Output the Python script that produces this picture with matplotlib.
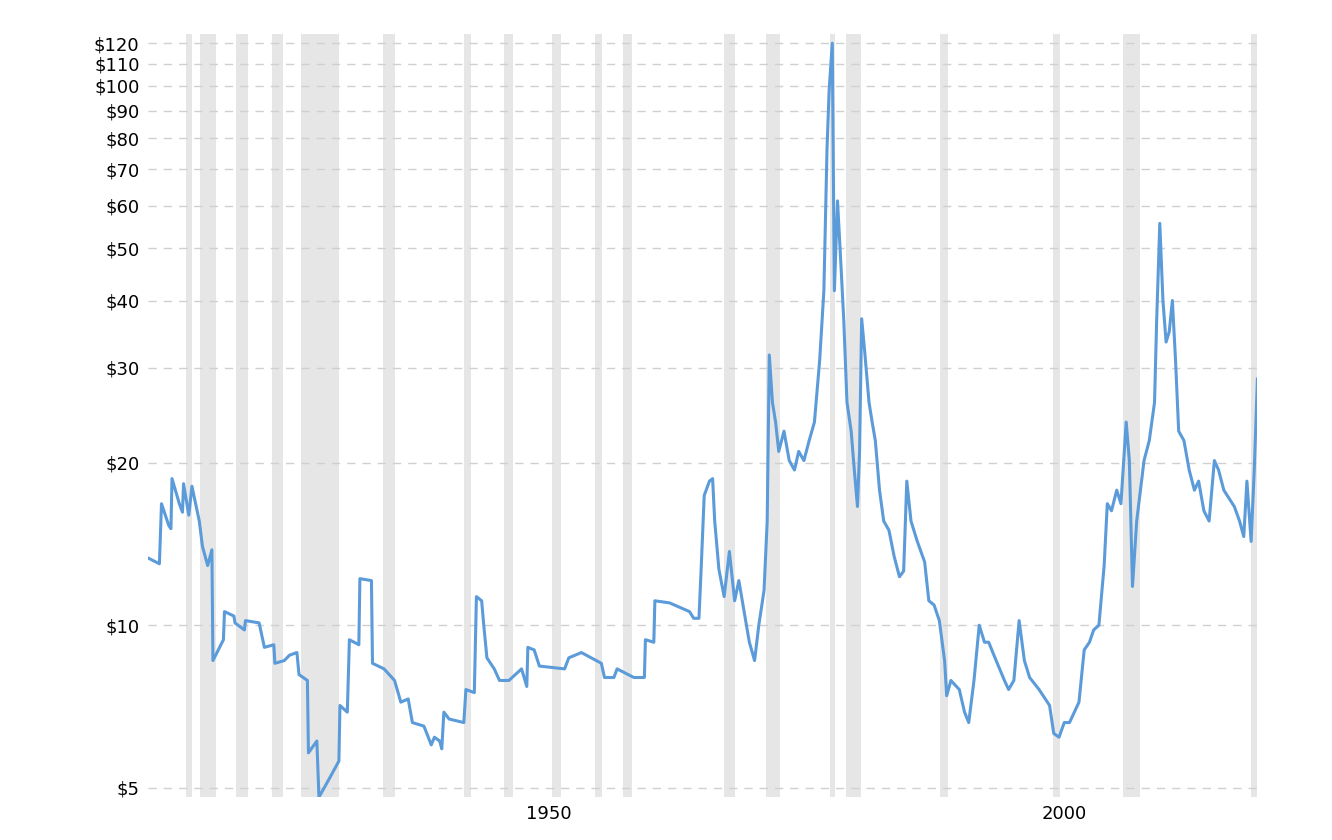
import matplotlib
matplotlib.use("Agg")
import matplotlib.pyplot as plt
from matplotlib.ticker import FixedLocator, NullLocator

# ── data ───────────────────────────────────────────────────────────────────────
years = [
    1915.1, 1916.1, 1916.3, 1917.0, 1917.2, 1917.3, 1918.0, 1918.3, 1918.4, 1918.9,
    1919.2, 1919.9, 1920.2, 1920.7, 1921.1, 1921.2, 1922.2, 1922.3, 1923.2, 1923.3,
    1924.2, 1924.3, 1925.6, 1926.1, 1927.0, 1927.1, 1928.0, 1928.5, 1929.2, 1929.4,
    1930.2, 1930.3, 1931.1, 1931.3, 1932.3, 1933.2, 1933.3, 1934.0, 1934.2, 1935.1,
    1935.2, 1936.3, 1936.4, 1937.5, 1938.5, 1939.1, 1939.8, 1940.2, 1941.3, 1942.0,
    1942.3, 1942.8, 1943.0, 1943.2, 1943.7, 1945.1, 1945.3, 1946.1, 1946.3, 1946.8,
    1947.0, 1947.3, 1948.0, 1948.5, 1949.4, 1950.6, 1951.1, 1951.2, 1951.8, 1952.3,
    1954.7, 1955.1, 1956.3, 1958.2, 1958.5, 1959.4, 1959.7, 1961.3, 1962.3, 1962.4,
    1963.2, 1963.3, 1964.7, 1966.6, 1967.0, 1967.5, 1967.7, 1968.0, 1968.5, 1968.8,
    1969.0, 1969.4, 1969.9, 1970.4, 1970.9, 1971.3, 1971.8, 1972.3, 1972.8, 1973.2,
    1973.7, 1974.0, 1974.2, 1974.5, 1974.8, 1975.1, 1975.6, 1976.1, 1976.6, 1977.0,
    1977.5, 1978.0, 1978.5, 1979.0, 1979.4, 1979.7, 1979.9, 1980.2, 1980.4, 1980.7,
    1981.0, 1981.3, 1981.6, 1982.0, 1982.3, 1982.6, 1982.8, 1983.0, 1983.3, 1983.7,
    1984.0, 1984.3, 1984.7, 1985.1, 1985.6, 1986.1, 1986.6, 1987.0, 1987.3, 1987.7,
    1988.3, 1989.0, 1989.4, 1989.9, 1990.4, 1990.9, 1991.1, 1991.5, 1992.3, 1992.8,
    1993.2, 1993.7, 1994.2, 1994.7, 1995.1, 1995.6, 1996.6, 1997.0, 1997.5, 1998.0,
    1998.5, 1999.0, 1999.9, 2000.9, 2001.3, 2001.8, 2002.3, 2002.8, 2003.7, 2004.2,
    2004.7, 2005.1, 2005.6, 2006.1, 2006.4, 2006.8, 2007.3, 2007.7, 2008.2, 2008.5,
    2008.8, 2009.2, 2009.9, 2010.4, 2010.9, 2011.1, 2011.4, 2011.7, 2012.0, 2012.3,
    2012.6, 2012.9, 2013.2, 2013.7, 2014.2, 2014.7, 2015.1, 2015.6, 2016.1, 2016.6,
    2017.0, 2017.5, 2018.5, 2019.0, 2019.4, 2019.7, 2020.1, 2020.4, 2020.7,
]
prices = [
    13.3, 13.0, 16.8, 15.3, 15.1, 18.7, 16.8, 16.2, 18.3, 16.0,
    18.1, 15.6, 14.0, 12.9, 13.8, 8.6, 9.4, 10.6, 10.4, 10.1,
    9.8, 10.2, 10.1, 9.1, 9.2, 8.5, 8.6, 8.8, 8.9, 8.1,
    7.9, 5.8, 6.1, 4.8, 5.2, 5.6, 7.1, 6.9, 9.4, 9.2,
    12.2, 12.1, 8.5, 8.3, 7.9, 7.2, 7.3, 6.6, 6.5, 6.0,
    6.2, 6.1, 5.9, 6.9, 6.7, 6.6, 7.6, 7.5, 11.3, 11.1,
    10.0, 8.7, 8.3, 7.9, 7.9, 8.3, 7.7, 9.1, 9.0, 8.4,
    8.3, 8.7, 8.9, 8.5, 8.0, 8.0, 8.3, 8.0, 8.0, 9.4,
    9.3, 11.1, 11.0, 10.6, 10.3, 10.3, 12.6, 17.4, 18.5, 18.7,
    15.6, 12.7, 11.3, 13.7, 11.1, 12.1, 10.6, 9.3, 8.6, 10.0,
    11.6, 15.6, 31.7, 25.9, 23.8, 21.0, 22.9, 20.2, 19.4, 21.0,
    20.2, 22.0, 23.8, 31.0, 41.7, 76.5, 98.0, 120.0, 41.7, 61.2,
    47.6, 36.6, 25.9, 22.9, 19.4, 16.6, 21.0, 37.0, 32.0, 25.9,
    23.8, 22.0, 17.8, 15.6, 15.0, 13.4, 12.3, 12.6, 18.5, 15.6,
    14.3, 13.1, 11.1, 10.9, 10.2, 8.6, 7.4, 7.9, 7.6, 6.9,
    6.6, 7.9, 10.0, 9.3, 9.3, 8.8, 7.9, 7.6, 7.9, 10.2,
    8.6, 8.0, 7.6, 7.1, 6.3, 6.2, 6.6, 6.6, 7.2, 9.0,
    9.3, 9.8, 10.0, 12.9, 16.8, 16.3, 17.8, 16.8, 23.8, 20.2,
    11.8, 15.6, 20.2, 22.0, 25.9, 36.6, 55.6, 40.0, 33.5, 35.0,
    40.0, 31.0, 22.9, 22.0, 19.4, 17.8, 18.5, 16.3, 15.6, 20.2,
    19.4, 17.8, 16.6, 15.6, 14.6, 18.5, 14.3, 19.4, 28.6,
]

recession_start = [1918.6, 1920.0, 1923.4, 1926.8, 1929.6, 1937.4, 1945.1, 1948.9,
                   1953.5, 1957.6, 1960.3, 1969.9, 1973.9, 1980.0, 1981.5, 1990.5,
                   2001.2, 2007.9, 2020.1]
recession_end = [1919.2, 1921.5, 1924.5, 1927.9, 1933.2, 1938.5, 1945.8, 1949.8,
                 1954.4, 1958.3, 1961.1, 1970.9, 1975.2, 1980.5, 1982.9, 1991.2,
                 2001.9, 2009.5, 2020.7]

y_ticks = [5, 10, 20, 30, 40, 50, 60, 70, 80, 90, 100, 110, 120]
x_tick_pos = [1953.2, 2002.3]
x_tick_labels = ["1950", "2000"]

# ── plot ───────────────────────────────────────────────────────────────────────
fig = plt.figure(figsize=(13.32, 8.4), dpi=100)
ax = fig.add_axes([0.111, 0.051, 0.833, 0.909])

for s, e in zip(recession_start, recession_end):
    ax.axvspan(s, e, color="#e6e6e6", lw=0, zorder=0)

ax.plot(years, prices, color="#5b9bd9", lw=2.2, zorder=3)

ax.set_yscale("log")
ax.set_ylim(4.8, 125)
ax.set_xlim(1915.0, 2020.7)
ax.yaxis.set_major_locator(FixedLocator(y_ticks))
ax.yaxis.set_minor_locator(NullLocator())
ax.set_yticklabels([f"${v}" for v in y_ticks], fontsize=13)
ax.set_xticks(x_tick_pos)
ax.set_xticklabels(x_tick_labels, fontsize=13)
ax.grid(axis="y", color="#d0d0d0", ls=(0, (6, 5)), lw=1, zorder=1)
ax.tick_params(length=0, pad=6)
for sp in ax.spines.values():
    sp.set_visible(False)

fig.savefig("out.png", dpi=100)
